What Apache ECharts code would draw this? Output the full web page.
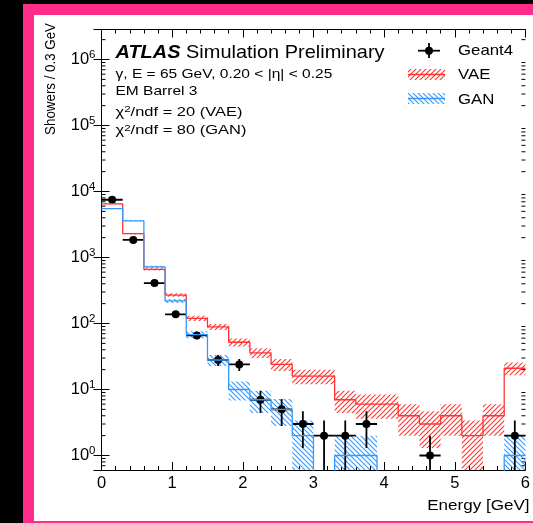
<!DOCTYPE html>
<html><head><meta charset="utf-8">
<script src="https://cdn.jsdelivr.net/npm/echarts@6/dist/echarts.min.js"></script>
<style>
html,body{margin:0;padding:0;background:#000;width:533px;height:523px;overflow:hidden;}
#frame{position:absolute;left:23px;top:4px;width:530px;height:530px;background:#ff2d8a;}
#inner{position:absolute;left:34px;top:15px;width:520px;height:506px;background:#fff;}
#chart{position:absolute;left:0;top:0;width:533px;height:523px;}
</style></head><body>
<div id="frame"></div><div id="inner"></div><div id="chart"></div>
<script>
// ---- data (bins of 0.3 GeV) ----
const binEdges = [0,0.3,0.6,0.9,1.2,1.5,1.8,2.1,2.4,2.7,3.0,3.3,3.6,3.9,4.2,4.5,4.8,5.1,5.4,5.7,6.0];
const geant4    = [7500,1850,410,138,66,28,24,7,5,3,2,2,3,0,0,1,0,0,0,2];
const geant4Err = [87,43,20,11.7,8.1,5.3,4.9,2.6,2.2,1.7,1.4,1.4,1.7,0,0,1,0,0,0,1.4];
const vae       = [6500,2300,660,270,120,89,52,36,24,16,16,7,6,6,4,3,4,2,4,21];
const vaeErr    = [81,48,26,16.4,11,9.4,7.2,6,4.9,4,4,2.6,2.4,2.4,2,1.7,2,1.4,2,4.6];
const gan       = [5500,3600,720,220,68,28,10,7,5,2,0,1,1,0,0,0,0,0,0,1];
const ganErr    = [74,60,27,15,8.2,5.3,3.2,2.6,2.2,1.4,0,1,1,0,0,0,0,0,0,1];
const xTicks = [0,1,2,3,4,5,6];
const yMin = 0.603, yMax = 2.85e6;

const RED = '#ff3333', BLUE = '#3399ff';
const FONT = '"Liberation Sans", Arial, Helvetica, sans-serif';

function hatch(color, dir) {
  const s = 5, c = document.createElement('canvas');
  c.width = s; c.height = s;
  const g = c.getContext('2d');
  g.strokeStyle = color; g.lineWidth = 1.1;
  g.beginPath();
  if (dir > 0) { // "///"
    g.moveTo(-1, s + 1); g.lineTo(s + 1, -1);
    g.moveTo(-1, 1); g.lineTo(1, -1);
    g.moveTo(s - 1, s + 1); g.lineTo(s + 1, s - 1);
  } else { // "\\\"
    g.moveTo(-1, -1); g.lineTo(s + 1, s + 1);
    g.moveTo(s - 1, -1); g.lineTo(s + 1, 1);
    g.moveTo(-1, s - 1); g.lineTo(1, s + 1);
  }
  g.stroke();
  return { image: c, repeat: 'repeat' };
}
const redHatch = hatch(RED, 1), blueHatch = hatch(BLUE, -1);

// minor ticks of log axis (2..9 x 10^k)
const yMinor = [];
for (let k = -1; k <= 6; k++) for (let m = 2; m <= 9; m++) {
  const v = m * Math.pow(10, k);
  if (v > yMin && v < yMax) yMinor.push(v);
}

function stepData(vals) {
  const d = binEdges.map((e, i) => [e, vals[Math.min(i, vals.length - 1)]]);
  return d.map(p => [p[0], p[1] > 0 ? p[1] : 0.05]); // empty bins drawn below axis floor (clipped)
}
function bandData(vals, errs) {
  return vals.map((v, i) => [binEdges[i], binEdges[i + 1], v, errs[i]]);
}
function bandRender(pattern) {
  return function (params, api) {
    const lo = api.value(0), hi = api.value(1), v = api.value(2), e = api.value(3);
    if (!(e > 0)) return null;
    const top = v + e, bot = Math.max(v - e, yMin);
    const p1 = api.coord([lo, top]), p2 = api.coord([hi, bot]);
    return { type: 'rect', shape: { x: p1[0], y: p1[1], width: p2[0] - p1[0], height: p2[1] - p1[1] },
      style: { fill: pattern, stroke: null } };
  };
}

const chart = echarts.init(document.getElementById('chart'), null, { renderer: 'canvas' });

const axisLineStyle = { lineStyle: { color: '#000', width: 1 } };
const xCommon = {
  type: 'value', min: 0, max: 6, interval: 1,
  axisLine: axisLineStyle,
  axisTick: { inside: true, length: 8, lineStyle: { color: '#000' } },
  minorTick: { show: true, splitNumber: 5, length: 4, lineStyle: { color: '#000' } },
  splitLine: { show: false }
};
const yCommon = {
  type: 'log', logBase: 10, min: yMin, max: yMax,
  axisLine: axisLineStyle,
  axisTick: { inside: true, length: 8, lineStyle: { color: '#000' } },
  splitLine: { show: false }
};
function isDecade(v) { const l = Math.log10(v); return Math.abs(l - Math.round(l)) < 1e-6; }
function txt(x, y, text, size, sx, extra) {
  const style = Object.assign({ text: text, fontFamily: FONT, fontSize: size, fill: '#000', align: 'left', verticalAlign: 'middle' }, extra || {});
  return { type: 'text', x: x, y: y, scaleX: sx, style: style };
}
const supRich = { s: { fontSize: 9.5, verticalAlign: 'top', lineHeight: 9, fontFamily: FONT, fill: '#000' } };

const option = {
  animation: false,
  backgroundColor: 'transparent',
  grid: { left: 101.5, right: 3.5, top: 29.5, bottom: 53, containLabel: false },
  xAxis: [
    Object.assign({}, xCommon, { position: 'bottom',
      axisLabel: { show: true, fontSize: 16.5, color: '#000', margin: 5, fontFamily: FONT,
        formatter: v => xTicks.indexOf(v) >= 0 ? String(v) : '' } }),
    Object.assign({}, xCommon, { position: 'top', axisLabel: { show: false } })
  ],
  yAxis: [
    Object.assign({}, yCommon, { position: 'left',
      axisLabel: { show: true, margin: 6, color: '#000', fontFamily: FONT, showMinLabel: false, showMaxLabel: false,
        formatter: v => isDecade(v) ? '{b|10}{s|' + Math.round(Math.log10(v)) + '}' : '',
        rich: { b: { fontSize: 16.5, lineHeight: 22, fontFamily: FONT, color: '#000' },
                s: { fontSize: 11.5, lineHeight: 12, verticalAlign: 'top', fontFamily: FONT, color: '#000' } } } }),
    Object.assign({}, yCommon, { position: 'right', axisLabel: { show: false } })
  ],
  series: [
    { name: 'minorTicks', type: 'custom', silent: true, data: yMinor.map(v => [v]),
      renderItem: function (params, api) {
        const v = api.value(0);
        const pl = api.coord([0, v]), pr = api.coord([6, v]);
        return { type: 'group', children: [
          { type: 'line', shape: { x1: pl[0], y1: pl[1], x2: pl[0] + 4, y2: pl[1] }, style: { stroke: '#000', lineWidth: 1 } },
          { type: 'line', shape: { x1: pr[0], y1: pr[1], x2: pr[0] - 4, y2: pr[1] }, style: { stroke: '#000', lineWidth: 1 } }
        ] };
      }, encode: { y: 0 } },
    { name: 'VAE band', type: 'custom', clip: true, silent: true, data: bandData(vae, vaeErr), renderItem: bandRender(redHatch) },
    { name: 'GAN band', type: 'custom', clip: true, silent: true, data: bandData(gan, ganErr), renderItem: bandRender(blueHatch) },
    { name: 'VAE', type: 'line', step: 'end', symbol: 'none', clip: true, data: stepData(vae),
      lineStyle: { color: RED, width: 1.3 } },
    { name: 'GAN', type: 'line', step: 'end', symbol: 'none', clip: true, data: stepData(gan),
      lineStyle: { color: BLUE, width: 1.3 } },
    { name: 'Geant4', type: 'custom', clip: true, data: geant4.map((v, i) => [binEdges[i], binEdges[i + 1], v, geant4Err[i]]),
      renderItem: function (params, api) {
        const lo = api.value(0), hi = api.value(1), v = api.value(2), e = api.value(3);
        if (!(v > 0)) return null;
        const c = (lo + hi) / 2;
        const pc = api.coord([c, v]), pl = api.coord([lo, v]), pr = api.coord([hi, v]);
        const pt = api.coord([c, v + e]), pb = api.coord([c, Math.max(v - e, yMin * 0.5)]);
        const st = { stroke: '#000', lineWidth: 1.8 };
        return { type: 'group', children: [
          { type: 'line', shape: { x1: pl[0], y1: pl[1], x2: pr[0], y2: pr[1] }, style: st },
          { type: 'line', shape: { x1: pt[0], y1: pt[1], x2: pb[0], y2: pb[1] }, style: st },
          { type: 'circle', shape: { cx: pc[0], cy: pc[1], r: 4 }, style: { fill: '#000' } }
        ] };
      } }
  ],
  graphic: [
    txt(115.5, 52.7, '{a|ATLAS} Simulation Preliminary', 19, 1.05,
      { rich: { a: { fontFamily: FONT, fontSize: 19, fontWeight: 'bold', fontStyle: 'italic', fill: '#000' } } }),
    txt(115.5, 74.3, 'γ, E = 65 GeV, 0.20 < |η| < 0.25', 13.5, 1.15),
    txt(115.5, 91.3, 'EM Barrel 3', 13.5, 1.15),
    txt(115.5, 111.8, 'χ{s|2}/ndf = 20 (VAE)', 13.5, 1.22, { rich: supRich }),
    txt(115.5, 130.5, 'χ{s|2}/ndf = 80 (GAN)', 13.5, 1.22, { rich: supRich }),
    // legend
    { type: 'line', shape: { x1: 418, y1: 50.7, x2: 440, y2: 50.7 }, style: { stroke: '#000', lineWidth: 1.8 } },
    { type: 'line', shape: { x1: 429, y1: 43, x2: 429, y2: 58 }, style: { stroke: '#000', lineWidth: 1.8 } },
    { type: 'circle', shape: { cx: 429, cy: 50.7, r: 4 }, style: { fill: '#000' } },
    txt(458, 51, 'Geant4', 15, 1.12),
    { type: 'rect', shape: { x: 408, y: 69, width: 37, height: 11 }, style: { fill: redHatch } },
    { type: 'line', shape: { x1: 408, y1: 74.5, x2: 445, y2: 74.5 }, style: { stroke: RED, lineWidth: 1.3 } },
    txt(458, 75, 'VAE', 15, 1.12),
    { type: 'rect', shape: { x: 408, y: 93, width: 37, height: 11 }, style: { fill: blueHatch } },
    { type: 'line', shape: { x1: 408, y1: 98.5, x2: 445, y2: 98.5 }, style: { stroke: BLUE, lineWidth: 1.3 } },
    txt(458, 100, 'GAN', 15, 1.12),
    // axis titles
    { type: 'text', x: 42.5, y: 23, rotation: Math.PI / 2, scaleX: 0.86,
      style: { text: 'Showers / 0.3 GeV', fontFamily: FONT, fontSize: 15.5, fill: '#000', align: 'right', verticalAlign: 'top' } },
    { type: 'text', x: 529.5, y: 505.5, scaleX: 1.1,
      style: { text: 'Energy [GeV]', fontFamily: FONT, fontSize: 15.5, fill: '#000', align: 'right', verticalAlign: 'middle' } }
  ]
};
chart.setOption(option);
</script></body></html>
